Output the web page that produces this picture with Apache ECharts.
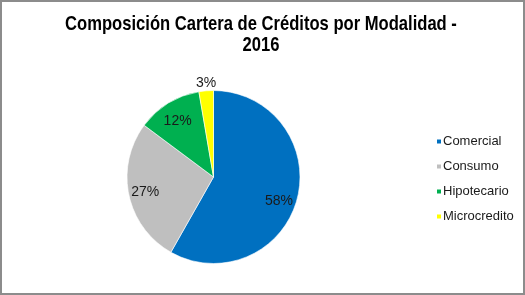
<!DOCTYPE html>
<html>
<head>
<meta charset="utf-8">
<script src="https://cdn.jsdelivr.net/npm/echarts@6/dist/echarts.min.js"></script>
<style>
html,body{margin:0;padding:0;background:#fff;}
#wrap{position:absolute;left:0;top:0;width:525px;height:295px;box-sizing:border-box;border:2px solid #8c8c8c;}
#c{position:absolute;left:0;top:0;width:525px;height:295px;}
</style>
</head>
<body>
<div id="c"></div>
<div id="wrap"></div>
<script>
const titleLines = ['Composición Cartera de Créditos por Modalidad -', '2016'];
const categories = ['Comercial', 'Consumo', 'Hipotecario', 'Microcredito'];
const values = [58.2, 27.0, 12.1, 2.7];
const colors = ['#0070C0', '#BFBFBF', '#00B050', '#FFFF00'];

const chart = echarts.init(document.getElementById('c'), null, {renderer: 'canvas'});
const center = [213.5, 177];
const data = categories.map((n, i) => ({name: n, value: values[i], itemStyle: {color: colors[i]}}));
const pctFmt = p => Math.round(p.percent) + '%';
const labelStyle = {color: '#1a1a1a', fontSize: 14, fontFamily: 'Liberation Sans, Arial, sans-serif'};
// small label nudges to mimic the spreadsheet's label placement
const nudge = [[1, 7], [-3, 1], [-1, 1], [1, 4]];

const titleFont = 'bold 21px "Liberation Sans", Arial, sans-serif';

chart.setOption({
  animation: false,
  graphic: titleLines.map((t, i) => ({
    type: 'text', x: 261, y: 24 + i * 21.6, scaleX: 0.79, silent: true,
    style: {text: t, font: titleFont, fill: '#000', align: 'center', verticalAlign: 'middle'}
  })),
  legend: {
    orient: 'vertical',
    left: 430,
    top: 130,
    itemWidth: 6,
    itemHeight: 6,
    itemGap: 12,
    icon: 'rect',
    data: categories,
    textStyle: {fontSize: 13, color: '#1a1a1a', fontFamily: 'Liberation Sans, Arial, sans-serif', padding: [0,0,0,-4]}
  },
  series: [
    {
      type: 'pie', center: center, radius: 86.5, startAngle: 90, clockwise: true,
      data: data, label: {show: false}, labelLine: {show: false},
      itemStyle: {borderColor: '#fff', borderWidth: 0.6}, silent: true
    },
    {
      type: 'pie', center: center, radius: [41, 86.5], startAngle: 90, clockwise: true,
      data: data.map((d, i) => ({name: d.name, value: d.value, itemStyle: {color: 'rgba(0,0,0,0)'}, label: {show: i < 3, offset: nudge[i]}})),
      label: Object.assign({position: 'inside', formatter: pctFmt}, labelStyle),
      labelLine: {show: false}, silent: true, legendHoverLink: false
    },
    {
      type: 'pie', center: center, radius: [86.5, 103.5], startAngle: 90, clockwise: true,
      data: data.map((d, i) => ({name: d.name, value: d.value, itemStyle: {color: 'rgba(0,0,0,0)'}, label: {show: i === 3, offset: nudge[i]}})),
      label: Object.assign({position: 'inside', formatter: pctFmt}, labelStyle),
      labelLine: {show: false}, silent: true, legendHoverLink: false
    }
  ]
});
</script>
</body>
</html>
